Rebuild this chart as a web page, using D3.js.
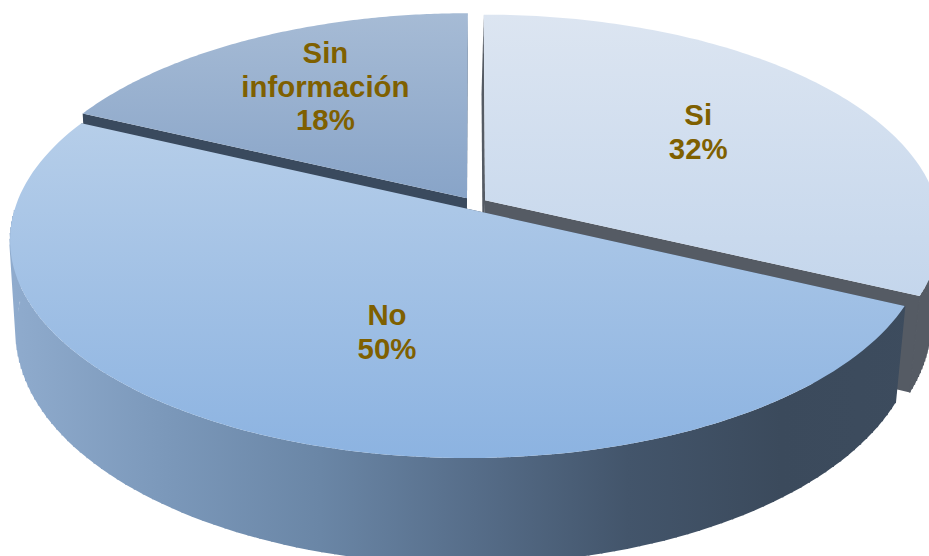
<!DOCTYPE html>
<html>
<head>
<meta charset="utf-8">
<style>
  html, body { margin: 0; padding: 0; background: #fff; overflow: hidden; }
  svg { display: block; }
</style>
<script src="https://cdn.jsdelivr.net/npm/d3@7"></script>
</head>
<body>
<svg id="chart" width="929" height="556"></svg>
<script>
'use strict';

var categories = ["Si", "No", "Sin información"];
var percents = [32, 50, 18];

// top face gradient (top, bottom) and side colour of each slice
var topColors = [["#dce5f1", "#c4d6ec"], ["#b6cee9", "#8cb3e1"], ["#a6bbd5", "#88a4c8"]];
var sideColors = ["#555b64", "#3d4c5e", "#3a4a5e"];
var wallStops = ["#8fabcd", "#7b98ba", "#6a86a6", "#566d89", "#43556b", "#3b4a5c", "#3d4c5e"];

// nudge of each label from its place on the slice bisector
var labelNudge = [[2, -5], [40, 1.5], [-11, -15]];

var svg = d3.select("#chart");
var defs = svg.append("defs");

// perspective of the pie plane
var cx = 474, cy = 203.5, W = 452, H = 212.4, k = 0.14, depth = 91, explode = 0.029;
var shrink = 0.0174, slide = 2;

function project(u, v, z) {
  var s = 1 / (1 - k * v);
  var dx = W * u * s;
  return [cx + dx - z * (slide + shrink * dx), cy + H * v * s + depth * z * s];
}

var pie = d3.pie().sort(null).value(function(d) { return d; });
var arcs = pie(percents);
var line = d3.line();

function offset(a) {
  var mid = (a.startAngle + a.endAngle) / 2;
  return [explode * Math.sin(mid), -explode * Math.cos(mid)];
}

function rimAngles(a) {
  var step = (a.endAngle - a.startAngle) / 120;
  return d3.range(121).map(function(i) { return a.startAngle + i * step; });
}

function rim(a, angles, z) {
  var o = offset(a);
  return angles.map(function(t) {
    return project(o[0] + Math.sin(t), o[1] - Math.cos(t), z);
  });
}

function apex(a, z) {
  var o = offset(a);
  return project(o[0], o[1], z);
}

function addGradient(id, x1, y1, x2, y2, colors) {
  var g = defs.append("linearGradient").attr("id", id)
      .attr("gradientUnits", "userSpaceOnUse")
      .attr("x1", x1).attr("y1", y1).attr("x2", x2).attr("y2", y2);
  colors.forEach(function(c, i) {
    g.append("stop").attr("offset", i / (colors.length - 1)).attr("stop-color", c);
  });
}

// back slices first, the big front slice last
var order = [2, 0, 1];

order.forEach(function(i) {
  var a = arcs[i];
  var angles = rimAngles(a);
  var top = rim(a, angles, 0), bottom = rim(a, angles, 1);
  var ys = top.map(function(p) { return p[1]; }).concat(apex(a, 0)[1]);
  addGradient("face" + i, 0, d3.min(ys), 0, d3.max(ys), topColors[i]);

  var g = svg.append("g").attr("class", "slice");

  // cut walls
  [top[0], top[top.length - 1]].forEach(function(p, j) {
    var q = j ? bottom[bottom.length - 1] : bottom[0];
    g.append("path")
      .attr("d", line([apex(a, 0), p, q, apex(a, 1)]) + "Z")
      .attr("fill", sideColors[i]);
  });

  // outer wall, only the part that faces the viewer
  var front = angles.filter(function(t) { return Math.cos(t) <= 0; });
  if (front.length) {
    var wallFill = sideColors[i];
    if (i === 1) {
      addGradient("wall", project(-1, 0.14, 0)[0], 0, project(1, 0.14, 0)[0], 0, wallStops);
      wallFill = "url(#wall)";
    }
    var upper = rim(a, front, 0), lower = rim(a, front, 1);
    // generator lines fill the silhouette where the two rims cross
    g.append("path")
      .attr("d", upper.map(function(p, j) { return line([p, lower[j]]); }).join(""))
      .attr("fill", "none")
      .attr("stroke", wallFill)
      .attr("stroke-width", 1.5);
    g.append("path")
      .attr("d", line(upper.concat(lower.slice().reverse())) + "Z")
      .attr("fill", wallFill);
  }

  // top face
  g.append("path")
    .attr("d", line([apex(a, 0)].concat(top)) + "Z")
    .attr("fill", "url(#face" + i + ")");
});

// labels
var labelRadius = 0.58, lineHeight = 33.7;

arcs.forEach(function(a, i) {
  var mid = (a.startAngle + a.endAngle) / 2;
  var o = offset(a);
  var p = project(o[0] + labelRadius * Math.sin(mid), o[1] - labelRadius * Math.cos(mid), 0);
  var lines = categories[i].split(" ").concat(percents[i] + "%");
  var text = svg.append("text")
      .attr("text-anchor", "middle")
      .attr("font-family", "'Liberation Sans', Arial, sans-serif")
      .attr("font-weight", "bold")
      .attr("font-size", 29.4)
      .attr("fill", "#7f6000");
  lines.forEach(function(l, j) {
    text.append("tspan")
      .attr("x", p[0] + labelNudge[i][0])
      .attr("y", p[1] + labelNudge[i][1] + (j - (lines.length - 1) / 2) * lineHeight + 10)
      .text(l);
  });
});
</script>
</body>
</html>
